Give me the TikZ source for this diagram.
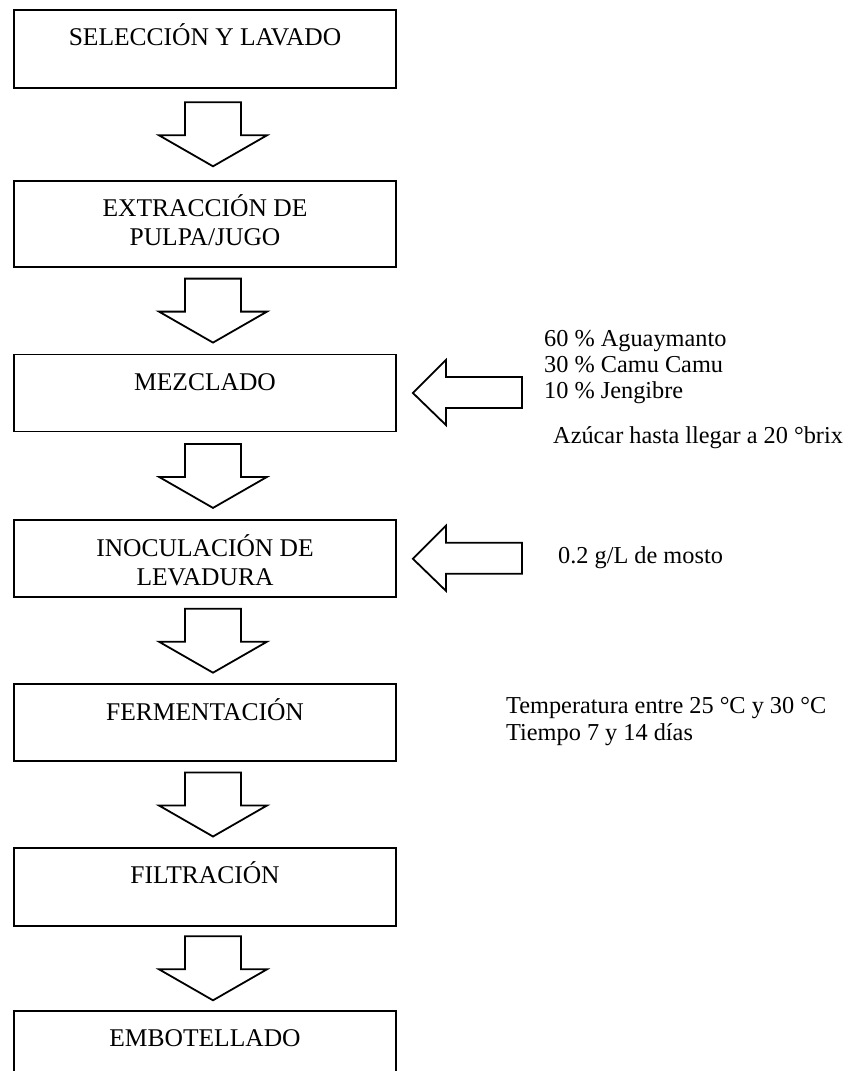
\documentclass[tikz,border=0pt]{standalone}
\usepackage{fontspec}
\setmainfont{Liberation Serif}
\usetikzlibrary{positioning,calc}

\begin{document}
\begin{tikzpicture}[x=1pt,y=-1pt,
    every node/.style={font=\fontsize{25.5}{29}\selectfont},
    paso/.style={draw,line width=1.8pt,inner sep=0pt,minimum width=382pt,
      text height=36pt,text depth=42pt,anchor=north},
    nota/.style={anchor=base west,inner sep=0pt,font=\fontsize{24.3}{26}\selectfont},
    flecha/.style={draw,line width=1.8pt,line join=miter}]

  \useasboundingbox (0,0) rectangle (850,1071);

  % etapas del proceso
  \node[paso] (sel) at (205,9) {SELECCIÓN Y LAVADO};
  \node[paso,text depth=50pt] (ext) [below=91pt of sel]
    {\begin{tabular}[t]{@{}c@{}}EXTRACCIÓN DE\\PULPA/JUGO\end{tabular}};
  \node[paso,text depth=41pt] (mez) [below=86pt of ext] {MEZCLADO};
  \node[paso,text depth=41pt] (ino) [below=87pt of mez]
    {\begin{tabular}[t]{@{}c@{}}INOCULACIÓN DE\\LEVADURA\end{tabular}};
  \node[paso,text depth=41pt] (fer) [below=85pt of ino] {FERMENTACIÓN};
  \node[paso] (fil) [below=85pt of fer] {FILTRACIÓN};
  \node[paso] (emb) [below=83pt of fil] {EMBOTELLADO};

  % flechas entre etapas
  \foreach \a/\b in {sel/ext,ext/mez,mez/ino,ino/fer,fer/fil,fil/emb}
    \draw[flecha] ($(\a.south)!0.5!(\b.north)+(-20,-32)$) -- ++(56,0) -- ++(0,33)
      -- ++(26,0) -- ++(-54,31) -- ++(-54,-31) -- ++(26,0) -- cycle;

  % entradas laterales
  \foreach \n in {mez,ino}
    \draw[flecha] ($(\n.east)+(16,0)$) -- ++(33,-33) -- ++(0,17) -- ++(76,0)
      -- ++(0,31) -- ++(-76,0) -- ++(0,17) -- cycle;

  \node[nota] (fruta1) at (544,346) {60 \% Aguaymanto};
  \node[nota] (fruta2) at (544,372) {30 \% Camu Camu};
  \node[nota] (fruta3) at (544,398) {10 \% Jengibre};
  \node[nota] (azucar) at (553,443) {Azúcar hasta llegar a 20 °brix};
  \node[nota] (dosis) at (558,563) {0.2 g/L de mosto};
  \node[nota] (temp) at (506,713) {Temperatura entre 25 °C y 30 °C};
  \node[nota] (tiempo) at (506,740) {Tiempo 7 y 14 días};

\end{tikzpicture}
\end{document}
